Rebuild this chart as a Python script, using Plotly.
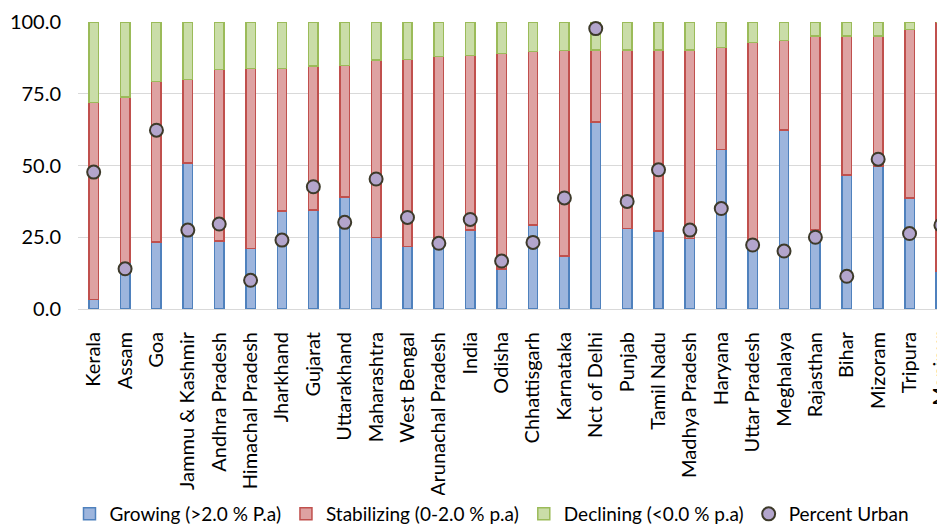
import plotly.graph_objects as go

states = ["Kerala", "Assam", "Goa", "Jammu & Kashmir", "Andhra Pradesh", "Himachal Pradesh",
          "Jharkhand", "Gujarat", "Uttarakhand", "Maharashtra", "West Bengal", "Arunachal Pradesh",
          "India", "Odisha", "Chhattisgarh", "Karnataka", "Nct of Delhi", "Punjab", "Tamil Nadu",
          "Madhya Pradesh", "Haryana", "Uttar Pradesh", "Meghalaya", "Rajasthan", "Bihar",
          "Mizoram", "Tripura", "Manipur"]

growing = [3.3, 16.2, 23.3, 50.8, 23.7, 21.1, 34.2, 34.5, 39.0, 24.9, 21.8, 22.5,
           27.5, 14.0, 29.3, 18.4, 65.2, 28.0, 27.2, 24.6, 55.5, 24.0, 62.3, 27.5,
           46.7, 49.9, 38.7, 13.3]
stabilizing = [68.6, 57.7, 55.9, 29.1, 59.8, 62.7, 49.6, 50.1, 45.9, 61.9, 65.2, 65.5,
               60.8, 75.0, 60.4, 71.6, 25.0, 62.3, 63.1, 65.7, 35.7, 68.9, 31.3, 67.7,
               48.5, 45.3, 58.7, 86.7]
declining = [28.1, 26.1, 20.8, 20.1, 16.5, 16.2, 16.2, 15.4, 15.1, 13.2, 13.0, 12.0,
             11.7, 11.0, 10.3, 10.0, 9.8, 9.7, 9.7, 9.7, 8.8, 7.1, 6.4, 4.8,
             4.8, 4.8, 2.6, 0.0]
percent_urban = [47.7, 14.0, 62.3, 27.5, 29.6, 10.0, 24.0, 42.6, 30.2, 45.3, 31.9, 22.9,
                 31.2, 16.7, 23.2, 38.7, 97.7, 37.5, 48.5, 27.5, 35.0, 22.3, 20.2, 25.0,
                 11.4, 52.2, 26.3, 29.2]
y_ticks = [0, 25, 50, 75, 100]

FONT = "Lato"
fig = go.Figure()
bar_w = 0.30
fig.add_trace(go.Bar(x=states, y=growing, name="Growing (>2.0 % P.a)", width=bar_w,
                     marker=dict(color="#9db5dd", line=dict(color="#4f81bd", width=1.5))))
fig.add_trace(go.Bar(x=states, y=stabilizing, name="Stabilizing (0-2.0 % p.a)", width=bar_w,
                     marker=dict(color="#dea2a2", line=dict(color="#c0504d", width=1.5))))
fig.add_trace(go.Bar(x=states, y=declining, name="Declining (<0.0 % p.a)", width=bar_w,
                     marker=dict(color="#cadda8", line=dict(color="#9bbb59", width=1.5))))
fig.add_trace(go.Scatter(x=states, y=percent_urban, name="Percent Urban", mode="markers",
                         cliponaxis=False,
                         marker=dict(size=13, color="#b3a5cc", line=dict(color="#3d3a2a", width=2))))

# page body adds an 8px offset; figure sized to fill the remaining window
fig.update_layout(
    barmode="stack",
    width=937, height=517,
    margin=dict(l=70, r=0, t=14, b=216, autoexpand=False),
    paper_bgcolor="white", plot_bgcolor="white",
    font=dict(family=FONT, size=20, color="#000000"),
    showlegend=True,
    legend=dict(orientation="h", x=0.4775, xanchor="center", y=-0.648, yanchor="top",
                font=dict(family=FONT, size=19), traceorder="normal", itemwidth=30),
    xaxis=dict(range=[-0.5, 27.13], tickangle=-90, showgrid=False, showline=True,
               linecolor="#d9d9d9", linewidth=1, ticks="", ticklabelstandoff=14,
               automargin=False, tickfont=dict(family=FONT, size=20)),
    yaxis=dict(range=[0, 100], tickvals=y_ticks, tickformat=".1f", showgrid=True,
               gridcolor="#d9d9d9", gridwidth=1, zeroline=False, showline=False,
               automargin=False, ticks="", ticklabelstandoff=16,
               tickfont=dict(family=FONT, size=20)),
)

fig.write_html("out.html")
